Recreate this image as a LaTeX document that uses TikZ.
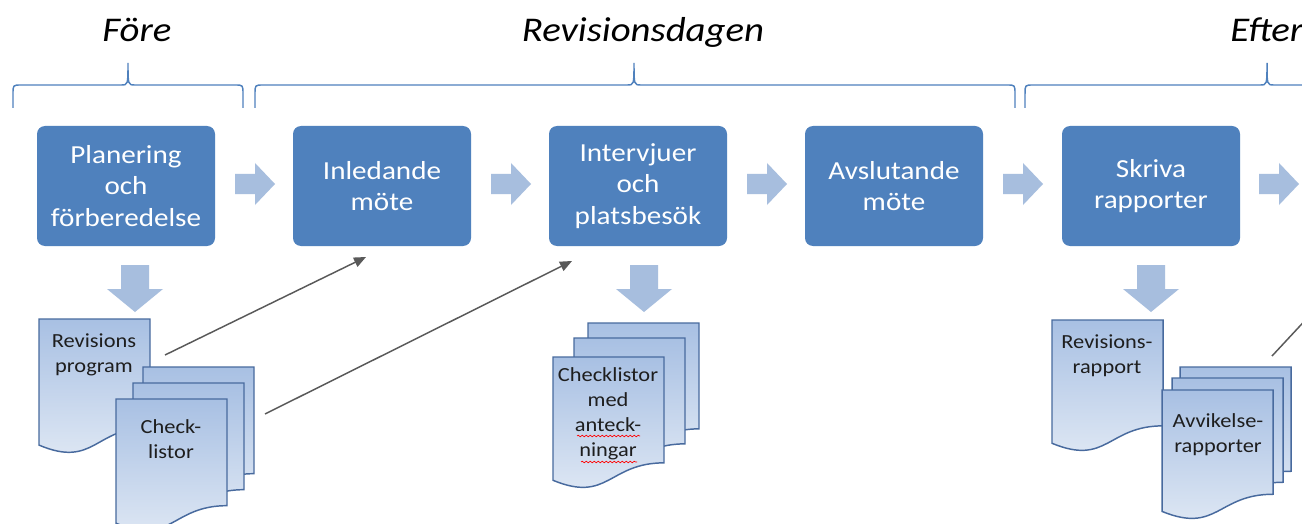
\documentclass[tikz,border=0pt]{standalone}
\usepackage{fontspec}
\setmainfont{Carlito}[FakeStretch=1.12]
\usetikzlibrary{arrows.meta,decorations.pathmorphing}
\definecolor{boxblue}{RGB}{79,129,189}
\definecolor{arrblue}{RGB}{167,190,222}
\definecolor{docedge}{RGB}{72,106,158}
\definecolor{doctop}{RGB}{168,192,227}
\definecolor{docbot}{RGB}{226,234,245}
\definecolor{linegray}{RGB}{89,89,89}
\definecolor{txtdark}{RGB}{30,30,30}
\newcommand{\docpage}[4]{%
  \path[docpagestyle] (#1,#2) -- ({#1+#3},#2) -- ({#1+#3},{#2+0.802*#4})
   .. controls ({#1+0.5*#3},{#2+0.802*#4}) and ({#1+0.5*#3},{#2+1.108*#4}) .. (#1,{#2+0.934*#4}) -- cycle;}
\newcommand{\rblock}[2]{%
  \fill[arrblue] (#1,{#2-10}) -- ({#1+20},{#2-10}) -- ({#1+20},{#2-21}) -- ({#1+40},#2)
   -- ({#1+20},{#2+21}) -- ({#1+20},{#2+10}) -- (#1,{#2+10}) -- cycle;}
\newcommand{\dblock}[2]{%
  \fill[arrblue] ({#1-14},#2) -- ({#1+14},#2) -- ({#1+14},{#2+24}) -- ({#1+28},{#2+24})
   -- (#1,{#2+47}) -- ({#1-28},{#2+24}) -- ({#1-14},{#2+24}) -- cycle;}
\newcommand{\tbrace}[3]{%
  \draw[bracestyle] (#1,108) -- (#1,94) .. controls (#1,85) .. ({#1+8},85) -- ({#2-7},85)
   .. controls (#2,85) .. (#2,63) .. controls (#2,85) .. ({#2+7},85) -- ({#3-8},85)
   .. controls (#3,85) .. (#3,94) -- (#3,108);}
\tikzset{
  docpagestyle/.style={draw=docedge, line width=1.1pt, top color=doctop, bottom color=docbot},
  mainbox/.style={fill=boxblue, rounded corners=6pt, minimum width=133.5pt, minimum height=90pt,
    align=center, text=white, inner sep=0pt, font=\fontsize{19.5}{23.4}\selectfont},
  doctext/.style={align=center, text=txtdark, inner sep=0pt, font=\fontsize{15}{18.8}\selectfont},
  titletext/.style={anchor=base, inner sep=0pt, text=black, font=\fontsize{26}{30}\selectfont\itshape},
  bracestyle/.style={draw=boxblue, line width=1.1pt},
  conn/.style={draw=linegray, line width=1.1pt, -{Triangle[length=9pt,width=7.5pt]}},
  connplain/.style={draw=linegray, line width=1.1pt},
  squig/.style={draw=red, line width=0.5pt, decorate, decoration={snake, amplitude=0.6pt, segment length=3pt}}
}
\begin{document}
\begin{tikzpicture}[x=0.75pt,y=-0.75pt]
\useasboundingbox (0,0) rectangle (1302,524);
\clip (0,0) rectangle (1302,524);
\fill[white] (0,0) rectangle (1302,524);
% braces
\tbrace{13}{128}{243}
\tbrace{255}{634}{1015}
\tbrace{1025}{1267}{1520}
% titles
\node[titletext] (t1) at (137,42) {Före};
\node[titletext] (t2) at (643,42) {Revisionsdagen};
\node[titletext, anchor=base west] (t3) at (1230,42) {Efter};
% main boxes
\node[mainbox] (b1) at (126,186) {Planering\\och\\förberedelse};
\node[mainbox] (b2) at (382,186) {Inledande\\möte};
\node[mainbox] (b3) at (638,186) {Intervjuer\\och\\platsbesök};
\node[mainbox] (b4) at (894,186) {Avslutande\\möte};
\node[mainbox] (b5) at (1151,186) {Skriva\\rapporter};
% block arrows
\rblock{235}{184}
\rblock{491}{184}
\rblock{747}{184}
\rblock{1003}{184}
\rblock{1259}{184}
\dblock{135}{265}
\dblock{644}{265}
\dblock{1151}{265}
% documents
\docpage{39}{319}{111}{135}
\docpage{143}{367}{111}{133}
\docpage{133}{383}{111}{133}
\docpage{116}{399}{111}{133}
\docpage{588}{323}{111}{132}
\docpage{574}{338}{111}{132}
\docpage{553}{357}{111}{132}
\docpage{1052}{320}{111}{132}
\docpage{1180}{367}{111}{130}
\docpage{1172}{378}{111}{130}
\docpage{1162}{390}{111}{130}
% document texts
\node[doctext] (d1) at (94,355) {Revisions\\program};
\node[doctext] (d2) at (171,439) {Check-\\listor};
\node[doctext] (d3) at (608,414) {Checklistor\\med\\anteck-\\ningar};
\node[doctext] (d4) at (1107,356) {Revisions-\\rapport};
\node[doctext] (d5) at (1218,435) {Avvikelse-\\rapporter};
\draw[squig] (577,436) -- (640,436);
\draw[squig] (581,462) -- (637,462);
% connectors
\coordinate (c1s) at (165,355);
\coordinate (c1e) at (366,257);
\coordinate (c2s) at (265,414);
\coordinate (c2e) at (572,261);
\coordinate (c3s) at (1272,356);
\coordinate (c3e) at (1312,313);
\draw[conn] (c1s) -- (c1e);
\draw[conn] (c2s) -- (c2e);
\draw[connplain] (c3s) -- (c3e);
\end{tikzpicture}
\end{document}
